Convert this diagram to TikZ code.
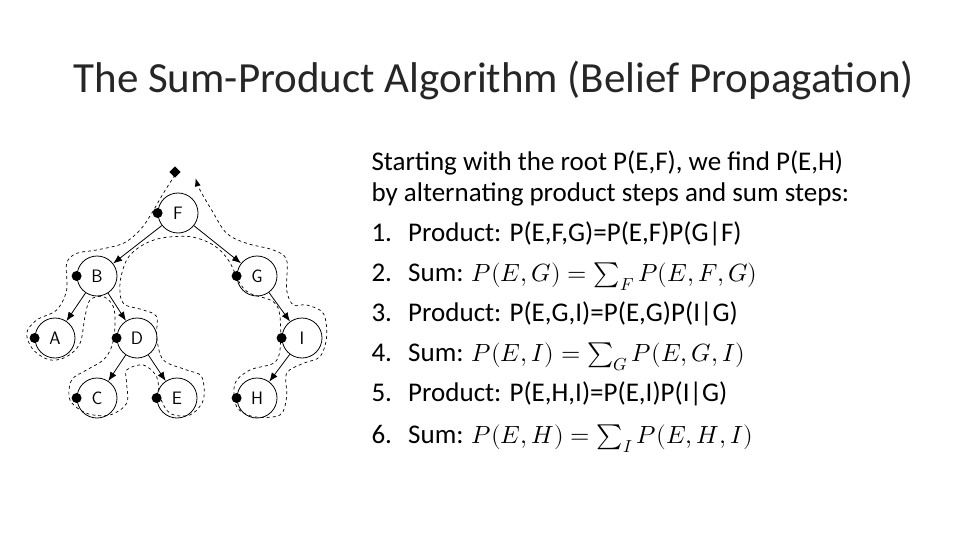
\documentclass[tikz,border=0pt]{standalone}
\usepackage{unicode-math}
\setmathfont{Latin Modern Math}[Scale=0.92]
\setmainfont{Carlito}
\usetikzlibrary{arrows.meta}
\begin{document}
\begin{tikzpicture}[x=1pt,y=-1pt,
  tn/.style={circle,draw,line width=0.8pt,minimum size=40pt,inner sep=0pt,font=\fontsize{18}{18}\selectfont\sffamily},
  edge/.style={line width=0.8pt,-{Latex[length=9pt,width=7pt]}},
  dot/.style={circle,fill,inner sep=0pt,minimum size=10pt},
  body/.style={anchor=base west,font=\fontsize{27}{27}\selectfont}]
\useasboundingbox (0,0) rectangle (960,540);
\node[anchor=west,font=\fontsize{43}{43}\selectfont,color=black!85] (title) at (70,80) {The Sum-Product Algorithm (Belief Propagation)};
% tree
\foreach \n/\x/\y in {F/178/213,B/97/276,G/257/276,A/55/338,D/137/338,I/302/338,C/97/398,E/177/398,H/257/398}{
  \node[tn] (\n) at (\x,\y) {\n};
  \node[dot] (d\n) at (\n.west) {};
}
\draw[edge] (F) -- (B); \draw[edge] (F) -- (G);
\draw[edge] (B) -- (A); \draw[edge] (B) -- (D);
\draw[edge] (D) -- (C); \draw[edge] (D) -- (E);
\draw[edge] (G) -- (I); \draw[edge] (I) -- (H);
\node[fill,rotate=45,inner sep=0pt,minimum size=8pt] (dia) at (175,172) {};
\begin{scope}[xshift=20pt,yshift=-150pt,x=0.3333pt,y=-0.3333pt]
\draw[dashed,line width=0.7pt,-{Latex[length=8pt,width=6pt]}] plot[smooth,tension=0.55] coordinates {
(465,75)(430,130)(395,190)(360,240)(310,280)(230,300)(170,310)(140,340)(140,420)(110,480)(50,510)(20,550)(40,600)(90,630)(140,620)(180,580)(195,500)(210,450)(250,440)(280,470)(285,530)(275,590)(250,630)(200,660)(155,690)(150,750)(200,790)(270,795)(320,760)(320,700)(320,660)(370,645)(410,680)(420,740)(450,790)(510,795)(550,750)(545,680)(500,660)(430,630)(410,560)(410,500)(370,480)(310,460)(300,400)(320,330)(360,290)(420,265)(510,260)(580,285)(625,330)(660,400)(690,430)(760,455)(780,500)(780,600)(760,640)(690,660)(645,700)(650,770)(700,800)(780,795)(800,740)(800,670)(850,640)(900,620)(920,560)(910,490)(860,465)(820,465)(800,420)(800,330)(760,300)(680,280)(620,250)(575,180)(540,120)(527,85)};
\end{scope}
% text
\node[body] (t1) at (368,171) {Starting with the root P(E,F), we find P(E,H)};
\node[body] (t2) at (368,201) {by alternating product steps and sum steps:};
\node[body] (s1) at (368,241) {1.\hspace{0.6em}Product: P(E,F,G)=P(E,F)P(G|F)};
\node[body] (s2) at (368,281) {2.\hspace{0.6em}Sum: $P(E,G)=\sum_F P(E,F,G)$};
\node[body] (s3) at (368,321) {3.\hspace{0.6em}Product: P(E,G,I)=P(E,G)P(I|G)};
\node[body] (s4) at (368,361) {4.\hspace{0.6em}Sum: $P(E,I)=\sum_G P(E,G,I)$};
\node[body] (s5) at (368,401) {5.\hspace{0.6em}Product: P(E,H,I)=P(E,I)P(I|G)};
\node[body] (s6) at (368,443) {6.\hspace{0.6em}Sum: $P(E,H)=\sum_I P(E,H,I)$};
\end{tikzpicture}
\end{document}
